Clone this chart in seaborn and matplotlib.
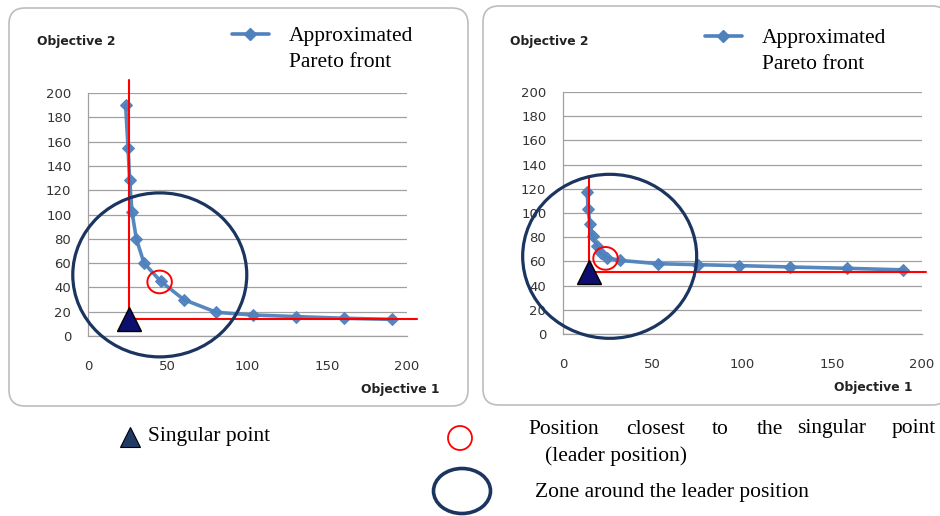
import matplotlib
matplotlib.use("Agg")
import matplotlib.pyplot as plt
import seaborn as sns
from matplotlib.patches import Ellipse, FancyBboxPatch
from matplotlib.lines import Line2D

# --- data ---
# left panel: approximated Pareto front
left_obj1 = [23.6, 25.1, 26.1, 27.6, 30.3, 35.1, 45.6, 60.0, 80.5, 103.4, 130.2, 160.3, 190.6]
left_obj2 = [190.0, 155.0, 128.0, 102.0, 80.0, 60.0, 45.0, 30.0, 19.5, 17.3, 16.0, 14.6, 13.7]
left_singular = (25.7, 13.8)
left_leader = (44.9, 44.5)
left_zone_center = (45.0, 50.3)

# right panel
right_obj1 = [13.5, 14.0, 15.0, 16.5, 18.8, 21.0, 24.5, 32.0, 53.0, 75.0, 98.3, 126.5, 158.0, 189.6]
right_obj2 = [117.0, 103.0, 91.0, 81.0, 73.0, 67.0, 63.0, 60.8, 58.1, 57.3, 56.5, 55.4, 54.3, 53.0]
right_singular = (14.6, 51.5)
right_leader = (23.7, 62.5)
right_zone_center = (26.0, 64.2)

x_ticks = [0, 50, 100, 150, 200]
y_ticks = list(range(0, 201, 20))

W, H = 940, 516
BLUE = "#4F81BD"
NAVY = "#1B3560"
TRI = "#0E0E6E"

sns.set_style("white")
plt.rcParams["font.family"] = ["DejaVu Sans"]

fig = plt.figure(figsize=(W / 100, H / 100), dpi=100)

# background layer in pixel coordinates (frames + bottom legend)
bg = fig.add_axes([0, 0, 1, 1], zorder=0)
bg.set_xlim(0, W)
bg.set_ylim(H, 0)
bg.axis("off")

for x0, x1, y0, y1 in [(9, 468, 8, 406), (483, 948, 6, 405)]:
    bg.add_patch(FancyBboxPatch((x0, y0), x1 - x0, y1 - y0,
                                boxstyle="round,pad=0,rounding_size=16",
                                fc="white", ec="#BDBDBD", lw=1.2))


def px_ax(x0, y0, x1, y1):
    return [x0 / W, 1 - y1 / H, (x1 - x0) / W, (y1 - y0) / H]


def draw_panel(rect, obj1, obj2, sing, leader, zone, vtop, hright,
               lab2_xy, lab1_xy, leg_xy):
    ax = fig.add_axes(rect, zorder=1)
    ax.set_facecolor("none")
    sns.lineplot(x=obj1, y=obj2, ax=ax, sort=False, color=BLUE, lw=2.6,
                 marker="D", markersize=6.5, markeredgecolor=BLUE, alpha=0.95)
    ax.set_xlim(0, 200)
    ax.set_ylim(0, 200)
    ax.set_xticks(x_ticks)
    ax.set_yticks(y_ticks)
    ax.yaxis.grid(True, color="#A0A0A0", lw=0.9)
    ax.xaxis.grid(False)
    for s in ["top", "right"]:
        ax.spines[s].set_visible(False)
    for s in ["left", "bottom"]:
        ax.spines[s].set_color("#A0A0A0")
        ax.spines[s].set_linewidth(0.9)
    ax.tick_params(axis="y", length=0, pad=12, labelsize=9.5, labelcolor="#333333")
    ax.tick_params(axis="x", length=0, pad=17, labelsize=9.5, labelcolor="#333333")
    ax.set_xlabel("")
    ax.set_ylabel("")

    # red guide lines from the singular point
    sx, sy = sing
    ax.plot([sx, sx], [vtop, sy], color="red", lw=1.5, clip_on=False, zorder=4)
    ax.plot([sx, hright], [sy, sy], color="red", lw=1.5, clip_on=False, zorder=4)
    ax.plot([sx], [sy], marker="^", ms=17, color=TRI, mec="black", mew=1.0,
            clip_on=False, zorder=5)

    # leader (small red circle) and zone (big navy circle), sizes in pixels
    bb = ax.get_position()
    sx_px = bb.width * W / 200
    sy_px = bb.height * H / 200
    ax.add_patch(Ellipse(leader, 24.5 / sx_px, 22.7 / sy_px, fill=False,
                         ec="red", lw=1.4, clip_on=False, zorder=5))
    ax.add_patch(Ellipse(zone, 174 / sx_px, 164 / sy_px, fill=False,
                         ec=NAVY, lw=2.3, clip_on=False, zorder=5))

    fig.text(lab2_xy[0] / W, 1 - lab2_xy[1] / H, "Objective 2", fontsize=8.9,
             fontweight="bold", color="#222222", va="center", ha="left")
    fig.text(lab1_xy[0] / W, 1 - lab1_xy[1] / H, "Objective 1", fontsize=8.9,
             fontweight="bold", color="#222222", va="center", ha="left")

    handles = [Line2D([], [], color=BLUE, lw=2.6, marker="D", ms=6.5),
               Line2D([], [], color="none")]
    leg = ax.legend(handles, ["Approximated", "Pareto front"], loc="upper left",
                    bbox_to_anchor=(leg_xy[0] / W, 1 - leg_xy[1] / H),
                    bbox_transform=fig.transFigure, frameon=False, borderpad=0,
                    borderaxespad=0, handlelength=1.7, handletextpad=0.95,
                    labelspacing=0.25,
                    prop={"family": "Liberation Serif", "size": 15.5})
    for t in leg.get_texts():
        t.set_color("black")
    return ax


draw_panel(px_ax(88, 93, 407, 336), left_obj1, left_obj2, left_singular,
           left_leader, left_zone_center, 211, 206,
           (37, 42), (361, 389), (232, 26))
draw_panel(px_ax(563, 92, 922, 334), right_obj1, right_obj2, right_singular,
           right_leader, right_zone_center, 130, 202.5,
           (510, 41), (834, 387), (705, 28))

# --- bottom legend ---
serif = {"family": "Liberation Serif", "size": 15.5, "color": "black"}
bg.plot([130], [437], marker="^", ms=15, color="#1F3A63", mec="black", mew=0.8)
bg.text(148, 436, "Singular point", va="center", ha="left", **serif)

bg.add_patch(Ellipse((460, 438), 24, 24, fill=False, ec="red", lw=1.3))
words = ["Position", "closest", "to", "the", "singular", "point"]
word_x = [528, 626, 712, 757, 797, 892]
for wd, wx in zip(words, word_x):
    bg.text(wx, 429, wd, va="center", ha="left", **serif)
bg.text(545, 456, "(leader position)", va="center", ha="left", **serif)

bg.add_patch(Ellipse((462, 491), 57, 45, fill=False, ec=NAVY, lw=2.6))
bg.text(535, 492, "Zone around the leader position", va="center", ha="left", **serif)

fig.savefig("out.png", dpi=100)
